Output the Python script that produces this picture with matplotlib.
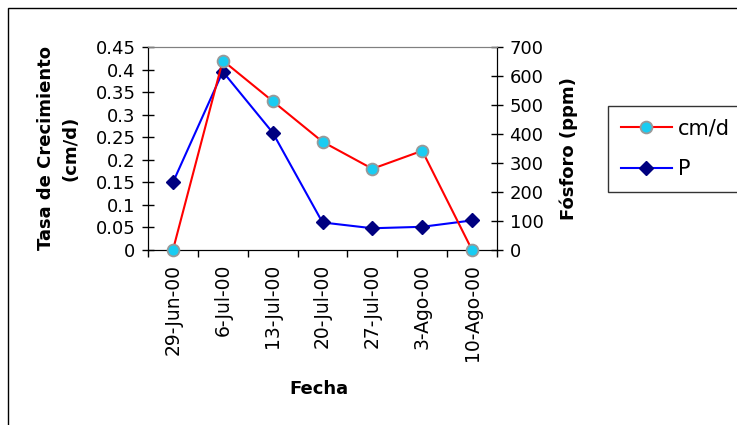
import numpy as np
import matplotlib
matplotlib.use("Agg")
import matplotlib.pyplot as plt
from matplotlib.patches import Rectangle

plt.rcParams['font.family'] = ['DejaVu Sans']

fechas = ['29-Jun-00', '6-Jul-00', '13-Jul-00', '20-Jul-00',
          '27-Jul-00', '3-Ago-00', '10-Ago-00']
tasa_cmd = [0.0, 0.42, 0.33, 0.24, 0.18, 0.22, 0.0]
fosforo_ppm = [233, 615, 405, 95, 75, 80, 102]

fig = plt.figure(figsize=(7.37, 4.25), dpi=100)
ax = fig.add_axes([148 / 737, 1 - 250 / 425, 349 / 737, 203 / 425])
ax2 = ax.twinx()

x = np.arange(len(fechas))
l1, = ax.plot(x, tasa_cmd, color='red', lw=1.5, marker='o', ms=8.5,
              mfc='#19CCF2', mec='#999999', mew=1.3, zorder=3, clip_on=False)
l2, = ax2.plot(x, fosforo_ppm, color='blue', lw=1.5, marker='D', ms=7.5,
               mfc='#000080', mec='#000080', zorder=3, clip_on=False)
ax.set_zorder(ax2.get_zorder() + 1)
ax.patch.set_visible(False)

ax.set_xlim(-0.5, len(fechas) - 0.5)
ax.set_ylim(0, 0.45)
ax2.set_ylim(0, 700)
ax.set_yticks(np.arange(0, 0.4501, 0.05))
ax.set_yticklabels(['0', '0.05', '0.1', '0.15', '0.2', '0.25', '0.3',
                    '0.35', '0.4', '0.45'])
ax2.set_yticks(np.arange(0, 701, 100))

# category ticks on the boundaries, labels in the middle
ax.set_xticks(np.arange(-0.5, len(fechas)), minor=False)
ax.set_xticklabels([])
ax.set_xticks(x, minor=True)
ax.set_xticklabels(fechas, minor=True, rotation=90, fontsize=13.5)
ax.tick_params(axis='x', which='minor', length=0, pad=10)
ax.tick_params(axis='x', which='major', direction='out', length=5, width=1)
ax.tick_params(axis='y', direction='inout', length=8, width=1, labelsize=13, pad=5)
ax2.tick_params(axis='y', direction='inout', length=8, width=1, labelsize=13, pad=5)

for a in (ax, ax2):
    a.spines['top'].set_color('#808080')
    for s in ('left', 'right', 'bottom'):
        a.spines[s].set_color('black')

ax.set_ylabel('Tasa de Crecimiento\n(cm/d)', fontsize=13, fontweight='bold',
              linespacing=1.5)
ax.yaxis.set_label_coords(-0.195, 0.5)
ax2.set_ylabel('Fósforo (ppm)', fontsize=13, fontweight='bold')
ax2.yaxis.set_label_coords(1.18, 0.5)
ax.set_xlabel('Fecha', fontsize=13, fontweight='bold')
ax.xaxis.set_label_coords(0.49, -0.64)

leg = fig.legend([l1, l2], ['cm/d', 'P'], loc='upper left',
                 bbox_to_anchor=(608 / 737, 1 - 106 / 425), fontsize=15,
                 frameon=True, fancybox=False, edgecolor='black',
                 handlelength=2.45, borderpad=0.6, labelspacing=1.0,
                 handletextpad=0.3, borderaxespad=0)
leg.get_frame().set_linewidth(1)

# outer chart frame (cut by the image edge)
fig.patches.append(Rectangle((8 / 737, -0.1), 1.2, 1 - 8 / 425 + 0.1,
                             transform=fig.transFigure, fill=False,
                             edgecolor='black', lw=1))

fig.savefig('out.png', dpi=100)
